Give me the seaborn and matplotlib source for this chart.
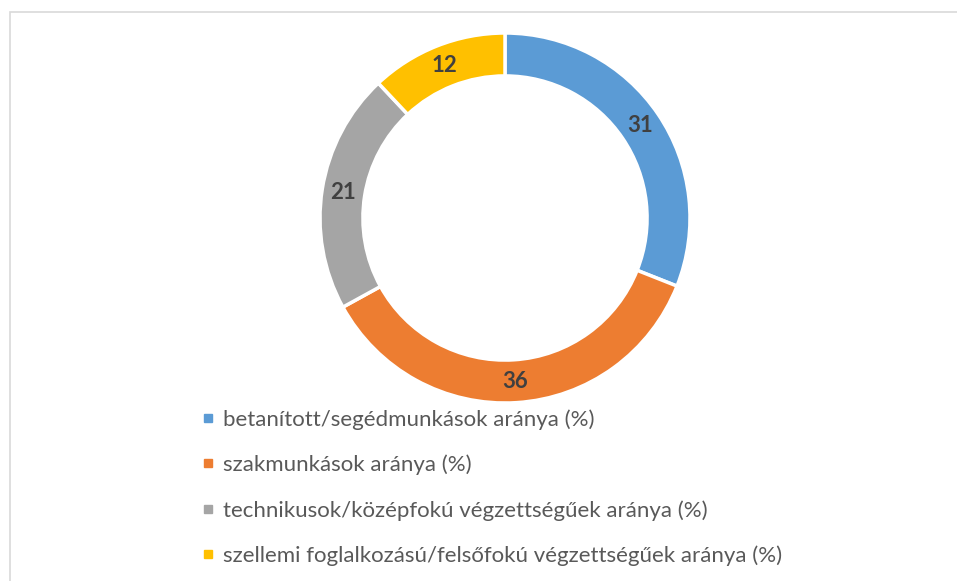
import matplotlib
matplotlib.use("Agg")
import matplotlib.pyplot as plt
import seaborn as sns
from matplotlib.lines import Line2D
from matplotlib.patches import Rectangle

categories = [
    "betanított/segédmunkások aránya (%)",
    "szakmunkások aránya (%)",
    "technikusok/középfokú végzettségűek aránya (%)",
    "szellemi foglalkozású/felsőfokú végzettségűek aránya (%)",
]
values = [31, 36, 21, 12]
colors = ["#5B9BD5", "#ED7D31", "#A5A5A5", "#FFC000"]

sns.set_theme(style="white")
plt.rcParams["font.family"] = ["Lato", "DejaVu Sans"]

W, H = 957, 581
fig = plt.figure(figsize=(W / 100, H / 100), dpi=100)

# chart border (runs off the right and bottom edges)
fig.patches.append(Rectangle((9.5 / W, -0.1), 1.2, 1.1 - 11.5 / H, transform=fig.transFigure,
                             fill=False, edgecolor="#d9d9d9", linewidth=1.2))

cx, cy, r = 505, H - 218, 185
ax = fig.add_axes([(cx - r) / W, (cy - r) / H, 2 * r / W, 2 * r / H])

wedges, texts, autotexts = ax.pie(
    values,
    colors=colors,
    startangle=90,
    counterclock=False,
    radius=1,
    autopct=lambda p: f"{p:.0f}",
    pctdistance=0.885,
    wedgeprops=dict(width=0.232, edgecolor="white", linewidth=2.5),
    textprops=dict(color="#404040", fontsize=16, fontweight="bold"),
)
ax.set_xlim(-1, 1)
ax.set_ylim(-1, 1)
ax.set_aspect("equal")
ax.axis("off")

handles = [Line2D([0], [0], marker="s", linestyle="none", markersize=5.5,
                  markerfacecolor=c, markeredgecolor=c) for c in colors]
fig.legend(handles, categories, loc="upper left",
           bbox_to_anchor=(203 / W, 1 - 409 / H), bbox_transform=fig.transFigure,
           frameon=False, fontsize=16, labelcolor="#595959",
           handlelength=0.45, handletextpad=0.45, labelspacing=1.12,
           borderpad=0, borderaxespad=0)

fig.savefig("out.png", dpi=100, facecolor="white")
